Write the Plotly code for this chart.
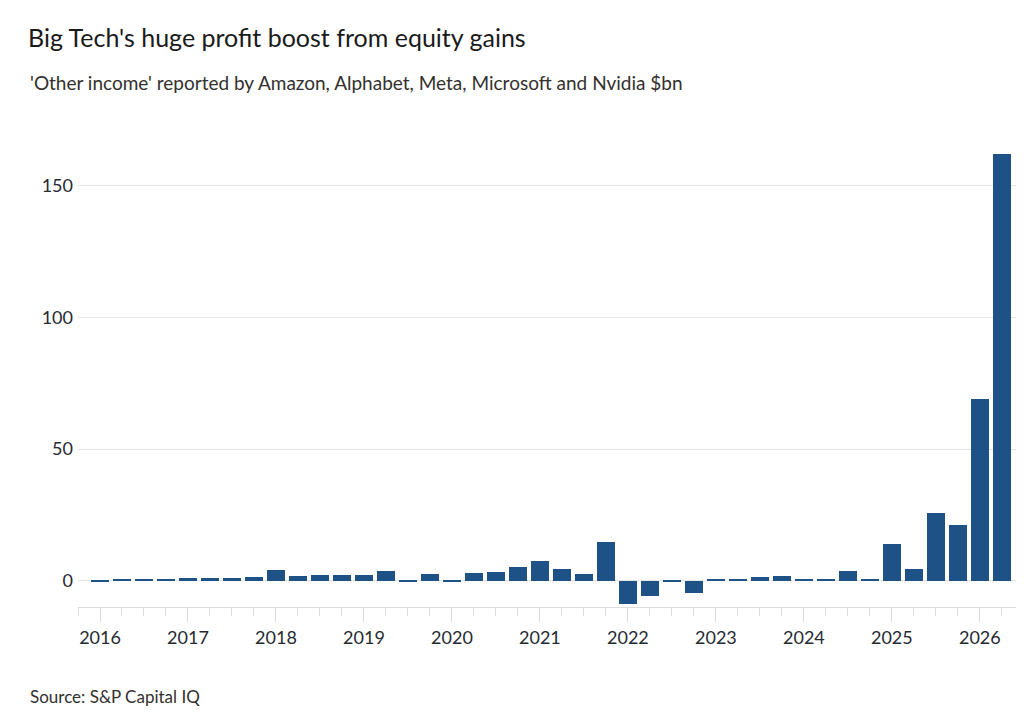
import plotly.graph_objects as go

years = [2016, 2017, 2018, 2019, 2020, 2021, 2022, 2023, 2024, 2025, 2026]
# quarterly 'other income', $bn, 2016 Q1 .. 2026 Q2
values = [
    -0.2, 0.5, 0.5, 0.5,
    1.0, 1.0, 1.0, 1.3,
    4.0, 1.7, 2.0, 2.2,
    2.3, 3.5, -0.5, 2.5,
    -0.5, 3.0, 3.4, 5.3,
    7.4, 4.6, 2.7, 14.8,
    -9.0, -6.0, -0.3, -4.5,
    0.8, 0.8, 1.5, 1.8,
    0.8, 0.8, 3.8, 0.5,
    14.0, 4.5, 25.8, 21.0,
    69.0, 162.0,
]
x = [years[0] + i * 0.25 for i in range(len(values))]

fig = go.Figure(go.Bar(x=x, y=values, marker_color="#1e5186", width=0.2, marker_line_width=0))

fig.update_layout(
    width=1024, height=718,
    margin=dict(l=70, r=2, t=125, b=119, autoexpand=False),
    plot_bgcolor="white", paper_bgcolor="white",
    font=dict(family="Lato, Open Sans, sans-serif", size=18, color="#262a33"),
    showlegend=False,
    bargap=0,
    title=dict(text="Big Tech's huge profit boost from equity gains", x=20 / 1024, xanchor="left",
               y=1 - 30 / 718, yanchor="middle", font=dict(size=25, color="#1a1a1a")),
)
fig.update_xaxes(
    range=[2015.75, 2026.57], tickvals=years, ticktext=[str(y) for y in years],
    showgrid=False, showline=True, linecolor="#e0dcd8", ticks="outside", ticklen=14,
    tickcolor="#e0dcd8", minor=dict(dtick=0.25, tick0=2016, ticks="outside", ticklen=8, tickcolor="#e0dcd8"),
    zeroline=False, automargin=False,
)
fig.update_yaxes(
    range=[-10, 170], tickvals=[0, 50, 100, 150], showgrid=True, gridcolor="#e8e6e3",
    zeroline=False, ticks="", ticklabelstandoff=4, automargin=False,
)

# plot area spans page x 70..1022, y 125..599
def px(xp):
    return (xp - 70) / 952

def py(yp):
    return (599 - yp) / 474

fig.add_annotation(text="'Other income' reported by Amazon, Alphabet, Meta, Microsoft and Nvidia $bn",
                   x=px(20), y=py(75), xref="paper", yref="paper", xanchor="left", yanchor="middle",
                   showarrow=False, font=dict(size=19, color="#33302e"))
fig.add_annotation(text="Source: S&P Capital IQ", x=px(20), y=py(688), xref="paper", yref="paper",
                   xanchor="left", yanchor="middle", showarrow=False, font=dict(size=17, color="#33302e"))

fig.write_html("out.html")
